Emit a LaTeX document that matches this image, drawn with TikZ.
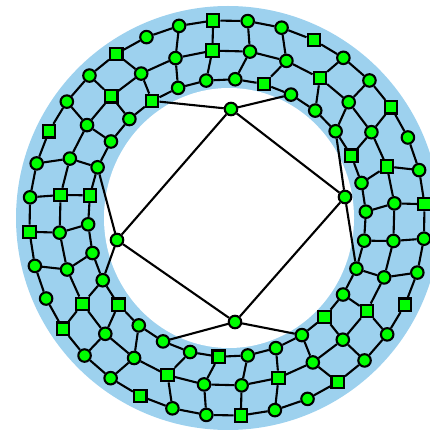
\documentclass[tikz,border=0pt]{standalone}
\usepackage{tikz}
\definecolor{ringblue}{HTML}{9DD1EE}
\definecolor{vgreen}{HTML}{00FF00}
\pgfdeclarelayer{bg}
\pgfsetlayers{bg,main}
\tikzset{
  vtx/.style={draw=black,line width=2.1pt,fill=vgreen,inner sep=0pt,minimum size=12.5pt},
  ed/.style={black,line width=2.1pt}
}

\begin{document}
\begin{tikzpicture}[x=1pt,y=-1pt]
\useasboundingbox (0,0) rectangle (430,430);
\coordinate (cen) at (227,218);
% outer row
\foreach \j in {0,...,35}{
  \pgfmathsetmacro\ang{10*\j+4}
  \pgfmathtruncatemacro\q{mod(\j,3)}
  \ifnum\q=0 \def\shp{rectangle}\else\def\shp{circle}\fi
  \path (cen) ++(\ang:198pt) node[vtx,shape=\shp] (a\j) {};
}
% middle row
\foreach \k in {0,...,27}{
  \pgfmathsetmacro\ang{5+360/28*\k}
  \pgfmathtruncatemacro\q{mod(\k,3)}
  \ifnum\q=1 \def\shp{rectangle}\else\def\shp{circle}\fi
  \path (cen) ++(\ang:168pt) node[vtx,shape=\shp] (b\k) {};
}
% inner row
\foreach \k in {0,...,29}{
  \pgfmathsetmacro\ang{2.6+12*\k}
  \pgfmathtruncatemacro\q{mod(\k,4)}
  \ifnum\q=2 \def\shp{rectangle}\else\def\shp{circle}\fi
  \path (cen) ++(\ang:139pt) node[vtx,shape=\shp] (c\k) {};
}
% the square inside the hole
\node[vtx,circle] (q0) at (345,197) {};
\node[vtx,circle] (q1) at (231,109) {};
\node[vtx,circle] (q2) at (117,240) {};
\node[vtx,circle] (q3) at (235,322) {};

\begin{pgfonlayer}{bg}
\clip (0,0) rectangle (430,430);
\fill[ringblue] (228,218) circle (212pt);
\fill[white] (229,218) ellipse (125pt and 130pt);
\foreach \j in {0,...,35}{
  \pgfmathtruncatemacro\n{mod(\j+1,36)}
  \draw[ed] (a\j) -- (a\n);
}
\foreach \k in {0,...,29}{
  \pgfmathtruncatemacro\n{mod(\k+1,30)}
  \draw[ed] (c\k) -- (c\n);
}
\foreach \k in {0,...,27}{
  \pgfmathtruncatemacro\n{mod(\k+1,28)}
  \pgfmathtruncatemacro\j{mod(round((1+360/28*\k)/10),36)}
  \pgfmathtruncatemacro\m{mod(round((2.4+360/28*\k)/12),30)}
  \draw[ed] (b\k) -- (b\n) (b\k) -- (a\j) (b\k) -- (c\m);
}
\draw[ed] (q0) -- (q1) -- (q2) -- (q3) -- (q0);
\foreach \u/\v in {q0/c3,q0/c28,q1/c5,q1/c10,q2/c13,q2/c17,q3/c20,q3/c25}
  \draw[ed] (\u) -- (\v);
\end{pgfonlayer}
\end{tikzpicture}
\end{document}
